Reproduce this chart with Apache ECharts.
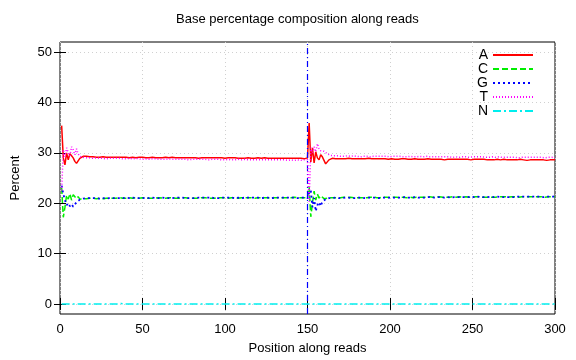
<!DOCTYPE html>
<html>
<head>
<meta charset="utf-8">
<script src="https://cdn.jsdelivr.net/npm/echarts@6/dist/echarts.min.js"></script>
<style>html,body{margin:0;padding:0;background:#fff}#c{width:576px;height:360px}</style>
</head>
<body>
<div id="c"></div>
<script>
const titleText = 'Base percentage composition along reads';
const xName = 'Position along reads';
const yName = 'Percent';
const seriesNames = ['A', 'C', 'G', 'T', 'N'];
const readBoundary = 150;
const xTicks = [0, 50, 100, 150, 200, 250, 300];
const yTicks = [0, 10, 20, 30, 40, 50];
const positions = Array.from({length: 300}, (_, i) => i + 1);

const baseA = [
35.4, 29.0, 27.6, 30.0, 28.6, 29.8, 29.4, 29.0, 28.3, 27.9,
28.4, 28.9, 29.1, 29.3, 29.2, 29.3, 29.2, 29.2, 29.1, 29.2,
29.2, 29.1, 29.2, 29.1, 29.1, 29.2, 29.1, 29.1, 29.2, 29.1,
29.1, 29.1, 29.2, 29.1, 29.1, 29.1, 29.0, 29.1, 29.1, 29.1,
29.1, 29.0, 29.1, 29.1, 29.1, 29.0, 29.1, 29.1, 29.0, 29.1,
29.1, 29.0, 29.1, 29.0, 29.1, 29.1, 29.0, 29.0, 29.1, 29.0,
29.1, 29.0, 29.0, 29.1, 29.0, 29.0, 29.0, 29.1, 29.0, 29.0,
29.0, 29.0, 29.1, 29.0, 29.0, 29.0, 29.0, 29.0, 29.0, 29.0,
29.0, 29.0, 29.0, 28.9, 29.0, 29.0, 29.0, 29.0, 28.9, 29.0,
29.0, 29.0, 28.9, 29.0, 29.0, 29.0, 28.9, 29.0, 29.0, 28.9,
29.0, 29.0, 28.9, 29.0, 28.9, 29.0, 29.0, 28.9, 29.0, 28.9,
29.0, 28.9, 28.9, 29.0, 28.9, 28.9, 29.0, 28.9, 28.9, 29.0,
28.9, 28.9, 28.9, 29.0, 28.9, 28.9, 28.9, 28.9, 29.0, 28.9,
28.9, 28.9, 28.9, 28.9, 29.0, 28.9, 28.9, 28.9, 28.9, 28.9,
28.9, 28.9, 29.0, 28.9, 28.9, 28.9, 28.9, 28.8, 28.9, 29.0,
35.9, 28.2, 31.0, 28.0, 30.2, 29.0, 28.6, 29.6, 29.2, 28.5,
27.8, 28.2, 28.6, 28.8, 28.9, 28.9, 28.8, 28.9, 28.8, 28.9,
28.8, 28.9, 28.8, 28.8, 28.9, 28.8, 28.8, 28.9, 28.8, 28.8,
28.8, 28.9, 28.8, 28.8, 28.8, 28.8, 28.9, 28.8, 28.8, 28.8,
28.8, 28.7, 28.8, 28.8, 28.8, 28.7, 28.8, 28.8, 28.7, 28.8,
28.8, 28.8, 28.7, 28.8, 28.7, 28.8, 28.8, 28.7, 28.8, 28.7,
28.7, 28.8, 28.7, 28.7, 28.8, 28.7, 28.7, 28.8, 28.7, 28.7,
28.7, 28.7, 28.8, 28.7, 28.7, 28.7, 28.7, 28.8, 28.7, 28.7,
28.7, 28.7, 28.6, 28.7, 28.7, 28.7, 28.7, 28.6, 28.7, 28.7,
28.7, 28.6, 28.7, 28.7, 28.7, 28.6, 28.7, 28.7, 28.6, 28.7,
28.7, 28.6, 28.7, 28.6, 28.7, 28.6, 28.7, 28.6, 28.6, 28.7,
28.6, 28.7, 28.6, 28.6, 28.7, 28.6, 28.6, 28.6, 28.7, 28.6,
28.6, 28.6, 28.6, 28.7, 28.6, 28.6, 28.6, 28.6, 28.7, 28.6,
28.6, 28.6, 28.5, 28.6, 28.6, 28.6, 28.6, 28.5, 28.6, 28.6,
28.6, 28.5, 28.6, 28.6, 28.5, 28.6, 28.6, 28.5, 28.6, 28.6
];

const baseC = [
23.0, 17.2, 19.2, 21.6, 20.8, 21.9, 20.6, 21.7, 22.0, 20.9,
21.3, 20.8, 21.0, 20.9, 21.0, 20.9, 21.0, 21.0, 20.9, 21.0,
21.0, 20.9, 21.0, 21.0, 21.0, 20.9, 21.0, 21.0, 21.1, 21.0,
21.0, 21.0, 20.9, 21.0, 21.0, 21.1, 21.0, 21.0, 21.0, 21.0,
21.0, 21.1, 21.0, 21.0, 21.0, 21.1, 21.0, 21.0, 21.0, 21.1,
21.0, 21.0, 21.1, 21.0, 21.0, 21.0, 21.1, 21.0, 21.0, 21.1,
21.0, 21.0, 21.1, 21.0, 21.0, 21.1, 21.0, 21.1, 21.0, 21.0,
21.1, 21.0, 21.0, 21.1, 21.0, 21.1, 21.0, 21.0, 21.1, 21.0,
21.1, 21.0, 21.1, 21.0, 21.0, 21.1, 21.0, 21.1, 21.1, 21.0,
21.1, 21.0, 21.1, 21.0, 21.1, 21.1, 21.0, 21.1, 21.0, 21.1,
21.1, 21.0, 21.1, 21.1, 21.0, 21.1, 21.1, 21.0, 21.1, 21.1,
21.0, 21.1, 21.1, 21.1, 21.0, 21.1, 21.1, 21.0, 21.1, 21.1,
21.1, 21.1, 21.0, 21.1, 21.1, 21.1, 21.1, 21.0, 21.1, 21.1,
21.1, 21.1, 21.2, 21.1, 21.1, 21.1, 21.0, 21.1, 21.1, 21.1,
21.1, 21.2, 21.1, 21.1, 21.1, 21.1, 21.2, 21.1, 21.1, 21.1,
23.2, 17.3, 20.0, 22.4, 20.6, 21.8, 21.0, 21.5, 21.2, 20.9,
21.1, 21.0, 21.2, 21.1, 21.0, 21.1, 21.2, 21.1, 21.0, 21.1,
21.1, 21.2, 21.1, 21.1, 21.1, 21.2, 21.1, 21.1, 21.2, 21.1,
21.1, 21.1, 21.2, 21.1, 21.2, 21.1, 21.1, 21.2, 21.1, 21.2,
21.2, 21.1, 21.2, 21.1, 21.2, 21.2, 21.1, 21.2, 21.2, 21.1,
21.2, 21.2, 21.1, 21.2, 21.2, 21.1, 21.2, 21.2, 21.2, 21.1,
21.2, 21.2, 21.2, 21.1, 21.2, 21.2, 21.2, 21.2, 21.1, 21.2,
21.2, 21.2, 21.2, 21.3, 21.2, 21.2, 21.2, 21.2, 21.2, 21.3,
21.2, 21.2, 21.2, 21.2, 21.3, 21.2, 21.2, 21.3, 21.2, 21.2,
21.2, 21.3, 21.2, 21.2, 21.2, 21.3, 21.2, 21.2, 21.3, 21.2,
21.2, 21.3, 21.2, 21.3, 21.2, 21.2, 21.3, 21.2, 21.3, 21.2,
21.3, 21.2, 21.3, 21.2, 21.3, 21.3, 21.2, 21.3, 21.2, 21.3,
21.3, 21.2, 21.3, 21.3, 21.2, 21.3, 21.3, 21.2, 21.3, 21.3,
21.3, 21.3, 21.2, 21.3, 21.3, 21.3, 21.2, 21.3, 21.3, 21.3,
21.3, 21.3, 21.3, 21.2, 21.3, 21.3, 21.3, 21.3, 21.2, 21.3
];

const baseG = [
23.5, 21.8, 20.6, 19.6, 20.0, 19.4, 19.8, 19.3, 19.6, 20.2,
20.5, 20.7, 20.8, 20.9, 20.9, 21.0, 20.9, 21.0, 21.0, 21.0,
20.9, 21.0, 21.0, 20.9, 21.0, 21.0, 21.0, 20.9, 21.0, 21.0,
21.0, 21.0, 21.0, 21.0, 20.9, 21.0, 21.0, 21.0, 21.0, 21.1,
21.0, 21.0, 21.0, 21.1, 21.0, 21.0, 21.0, 21.0, 21.1, 21.0,
21.0, 21.1, 21.0, 21.0, 21.0, 21.1, 21.0, 21.0, 21.1, 21.0,
21.0, 21.1, 21.0, 21.0, 21.1, 21.0, 21.1, 21.0, 21.0, 21.1,
21.0, 21.1, 21.0, 21.1, 21.0, 21.0, 21.1, 21.0, 21.1, 21.0,
21.1, 21.0, 21.1, 21.1, 21.0, 21.1, 21.0, 21.1, 21.0, 21.1,
21.0, 21.1, 21.1, 21.0, 21.1, 21.0, 21.1, 21.1, 21.0, 21.1,
21.1, 21.1, 21.0, 21.1, 21.1, 21.0, 21.1, 21.1, 21.1, 21.0,
21.1, 21.1, 21.0, 21.1, 21.1, 21.1, 21.0, 21.1, 21.1, 21.1,
21.1, 21.0, 21.1, 21.1, 21.1, 21.1, 21.1, 21.0, 21.1, 21.1,
21.1, 21.1, 21.1, 21.1, 21.0, 21.1, 21.1, 21.1, 21.1, 21.1,
21.1, 21.1, 21.1, 21.0, 21.1, 21.1, 21.1, 21.1, 21.1, 21.0,
22.0, 22.6, 19.2, 21.0, 18.4, 19.6, 20.2, 19.4, 20.3, 20.6,
20.8, 20.9, 21.0, 20.9, 21.0, 21.0, 21.1, 21.0, 21.0, 21.1,
21.0, 21.0, 21.1, 21.0, 21.1, 21.0, 21.0, 21.1, 21.0, 21.1,
21.1, 21.0, 21.1, 21.1, 21.0, 21.1, 21.1, 21.0, 21.1, 21.1,
21.1, 21.1, 21.0, 21.1, 21.1, 21.1, 21.1, 21.0, 21.1, 21.1,
21.1, 21.1, 21.1, 21.2, 21.1, 21.1, 21.1, 21.1, 21.2, 21.1,
21.1, 21.2, 21.1, 21.1, 21.2, 21.1, 21.1, 21.2, 21.1, 21.2,
21.1, 21.2, 21.2, 21.1, 21.2, 21.2, 21.1, 21.2, 21.2, 21.1,
21.2, 21.2, 21.1, 21.2, 21.2, 21.2, 21.1, 21.2, 21.2, 21.2,
21.2, 21.2, 21.2, 21.1, 21.2, 21.2, 21.2, 21.2, 21.3, 21.2,
21.2, 21.2, 21.3, 21.2, 21.2, 21.2, 21.2, 21.3, 21.2, 21.2,
21.3, 21.2, 21.2, 21.2, 21.3, 21.2, 21.2, 21.3, 21.2, 21.3,
21.2, 21.3, 21.2, 21.3, 21.2, 21.3, 21.3, 21.2, 21.3, 21.3,
21.3, 21.2, 21.3, 21.3, 21.3, 21.2, 21.3, 21.3, 21.3, 21.3,
21.3, 21.3, 21.2, 21.3, 21.3, 21.3, 21.3, 21.3, 21.3, 21.4
];

const baseT = [
22.5, 30.6, 29.2, 31.0, 30.0, 29.4, 31.2, 30.6, 29.6, 30.8,
29.8, 29.3, 29.0, 29.1, 28.9, 29.0, 28.9, 29.0, 28.9, 28.9,
28.9, 29.0, 28.9, 28.9, 28.8, 28.9, 28.9, 28.8, 28.9, 28.9,
28.8, 28.9, 28.8, 28.9, 28.8, 28.9, 28.8, 28.8, 28.9, 28.8,
28.8, 28.9, 28.8, 28.8, 28.8, 28.9, 28.8, 28.8, 28.8, 28.7,
28.8, 28.8, 28.8, 28.7, 28.8, 28.8, 28.7, 28.8, 28.8, 28.7,
28.8, 28.7, 28.8, 28.7, 28.7, 28.8, 28.7, 28.7, 28.8, 28.7,
28.7, 28.7, 28.8, 28.7, 28.7, 28.7, 28.7, 28.6, 28.7, 28.7,
28.7, 28.7, 28.6, 28.7, 28.7, 28.7, 28.6, 28.7, 28.7, 28.6,
28.7, 28.7, 28.6, 28.7, 28.6, 28.7, 28.7, 28.6, 28.7, 28.6,
28.6, 28.7, 28.6, 28.6, 28.7, 28.6, 28.6, 28.7, 28.6, 28.6,
28.6, 28.7, 28.6, 28.6, 28.6, 28.6, 28.7, 28.6, 28.6, 28.6,
28.6, 28.6, 28.7, 28.6, 28.6, 28.6, 28.5, 28.6, 28.6, 28.6,
28.6, 28.6, 28.5, 28.6, 28.6, 28.6, 28.6, 28.5, 28.6, 28.6,
28.6, 28.5, 28.6, 28.6, 28.6, 28.5, 28.6, 28.6, 28.5, 28.6,
20.3, 31.0, 30.0, 31.2, 30.2, 31.8, 30.8, 30.4, 30.6, 30.3,
30.0, 29.8, 29.6, 29.5, 29.4, 29.4, 29.3, 29.4, 29.3, 29.3,
29.4, 29.3, 29.3, 29.4, 29.3, 29.3, 29.3, 29.4, 29.3, 29.3,
29.3, 29.2, 29.3, 29.3, 29.4, 29.3, 29.3, 29.2, 29.3, 29.3,
29.3, 29.3, 29.2, 29.3, 29.3, 29.3, 29.2, 29.3, 29.3, 29.2,
29.3, 29.3, 29.2, 29.3, 29.2, 29.3, 29.3, 29.2, 29.3, 29.2,
29.2, 29.3, 29.2, 29.2, 29.3, 29.2, 29.2, 29.3, 29.2, 29.2,
29.2, 29.3, 29.2, 29.2, 29.2, 29.2, 29.3, 29.2, 29.2, 29.2,
29.2, 29.2, 29.1, 29.2, 29.2, 29.2, 29.2, 29.1, 29.2, 29.2,
29.2, 29.1, 29.2, 29.2, 29.1, 29.2, 29.2, 29.1, 29.2, 29.2,
29.1, 29.2, 29.1, 29.2, 29.1, 29.2, 29.1, 29.1, 29.2, 29.1,
29.1, 29.2, 29.1, 29.1, 29.1, 29.2, 29.1, 29.1, 29.1, 29.1,
29.1, 29.1, 29.2, 29.1, 29.1, 29.1, 29.1, 29.0, 29.1, 29.1,
29.1, 29.1, 29.0, 29.1, 29.1, 29.1, 29.0, 29.1, 29.1, 29.1,
29.0, 29.1, 29.1, 29.0, 29.1, 29.1, 29.0, 29.1, 29.1, 29.0
];

const baseN = [
0.0, 0.0, 0.0, 0.0, 0.0, 0.0, 0.0, 0.0, 0.0, 0.0,
0.0, 0.0, 0.0, 0.0, 0.0, 0.0, 0.0, 0.0, 0.0, 0.0,
0.0, 0.0, 0.0, 0.0, 0.0, 0.0, 0.0, 0.0, 0.0, 0.0,
0.0, 0.0, 0.0, 0.0, 0.0, 0.0, 0.1, 0.0, 0.0, 0.0,
0.0, 0.0, 0.0, 0.0, 0.0, 0.0, 0.0, 0.0, 0.0, 0.0,
0.0, 0.0, 0.0, 0.0, 0.0, 0.0, 0.0, 0.0, 0.0, 0.0,
0.0, 0.0, 0.0, 0.0, 0.0, 0.0, 0.0, 0.0, 0.0, 0.0,
0.0, 0.0, 0.0, 0.0, 0.0, 0.0, 0.0, 0.0, 0.0, 0.1,
0.0, 0.0, 0.0, 0.0, 0.0, 0.0, 0.0, 0.0, 0.0, 0.0,
0.0, 0.0, 0.0, 0.0, 0.0, 0.0, 0.0, 0.0, 0.0, 0.0,
0.0, 0.1, 0.0, 0.0, 0.0, 0.0, 0.0, 0.0, 0.0, 0.0,
0.0, 0.1, 0.0, 0.0, 0.0, 0.0, 0.0, 0.0, 0.0, 0.0,
0.0, 0.0, 0.0, 0.0, 0.0, 0.0, 0.0, 0.0, 0.0, 0.0,
0.0, 0.0, 0.0, 0.0, 0.0, 0.0, 0.0, 0.0, 0.0, 0.0,
0.0, 0.0, 0.0, 0.0, 0.0, 0.0, 0.0, 0.0, 0.0, 0.0,
0.0, 0.0, 0.0, 0.0, 0.0, 0.0, 0.0, 0.0, 0.0, 0.0,
0.0, 0.0, 0.0, 0.0, 0.0, 0.0, 0.0, 0.0, 0.0, 0.0,
0.0, 0.0, 0.0, 0.0, 0.0, 0.0, 0.0, 0.0, 0.0, 0.0,
0.0, 0.0, 0.0, 0.0, 0.0, 0.0, 0.0, 0.0, 0.0, 0.0,
0.0, 0.0, 0.0, 0.0, 0.0, 0.0, 0.0, 0.0, 0.0, 0.0,
0.0, 0.0, 0.0, 0.0, 0.0, 0.0, 0.0, 0.0, 0.0, 0.0,
0.0, 0.0, 0.0, 0.0, 0.0, 0.0, 0.0, 0.0, 0.0, 0.0,
0.0, 0.0, 0.0, 0.0, 0.0, 0.0, 0.0, 0.0, 0.0, 0.0,
0.0, 0.0, 0.0, 0.0, 0.0, 0.0, 0.0, 0.0, 0.0, 0.0,
0.0, 0.0, 0.0, 0.0, 0.0, 0.0, 0.0, 0.0, 0.0, 0.0,
0.0, 0.0, 0.0, 0.0, 0.0, 0.0, 0.0, 0.0, 0.0, 0.0,
0.0, 0.0, 0.0, 0.0, 0.0, 0.0, 0.0, 0.0, 0.0, 0.0,
0.0, 0.0, 0.0, 0.0, 0.0, 0.0, 0.0, 0.0, 0.0, 0.0,
0.0, 0.0, 0.0, 0.0, 0.0, 0.0, 0.0, 0.0, 0.0, 0.0,
0.0, 0.0, 0.0, 0.0, 0.0, 0.0, 0.0, 0.0, 0.0, 0.0
];

const FONT = '"Liberation Sans", Arial, sans-serif';
const valuesByName = {A: baseA, C: baseC, G: baseG, T: baseT, N: baseN};
const styles = {
  A: {color: '#ff0000', type: 'solid', width: 1.5},
  C: {color: '#00ee00', type: [6, 3], width: 1.5},
  G: {color: '#0000ff', type: [2, 3], width: 1.8},
  T: {color: '#ff00ff', type: [1, 2], width: 1.5},
  N: {color: '#00eeee', type: [8, 3, 2, 3], width: 1.5}
};

const gridLine = {show: true, lineStyle: {color: '#d0d0d0', type: [1, 3], width: 1}};
const tickStyle = {show: true, inside: true, length: 6, lineStyle: {color: '#000', width: 1}};

const series = seriesNames.map((name, k) => {
  const s = {
    name: name,
    type: 'line',
    symbol: 'none',
    showSymbol: false,
    data: positions.map((p, i) => [p, valuesByName[name][i]]),
    lineStyle: styles[name],
    itemStyle: {color: styles[name].color},
    z: 3 + k
  };
  if (name === 'A') {
    s.markLine = {
      symbol: 'none', silent: true, label: {show: false},
      lineStyle: {color: '#0000ff', type: [6, 3, 1, 3], width: 1.2},
      data: [{xAxis: readBoundary}]
    };
  }
  return s;
});

const chart = echarts.init(document.getElementById('c'), null, {renderer: 'canvas'});
chart.setOption({
  animation: false,
  backgroundColor: '#fff',
  textStyle: {fontFamily: FONT},
  title: {
    text: titleText, left: 176, top: 13, padding: 0,
    textStyle: {fontSize: 13, fontWeight: 'normal', color: '#000', fontFamily: FONT}
  },
  legend: {
    data: seriesNames, orient: 'vertical', right: 42, top: 48, align: 'right',
    itemWidth: 40, itemHeight: 14, itemGap: 0, padding: 0,
    itemStyle: {color: 'transparent', borderWidth: 0, opacity: 0},
    textStyle: {fontSize: 14, lineHeight: 14, color: '#000', fontFamily: FONT},
    selectedMode: false
  },
  grid: {left: 60, right: 21, top: 42, bottom: 46, show: true, borderColor: '#000', borderWidth: 1, backgroundColor: 'transparent'},
  xAxis: [
    {
      type: 'value', min: xTicks[0], max: xTicks[xTicks.length - 1], interval: 50, position: 'bottom',
      axisLine: {show: false}, axisTick: tickStyle,
      axisLabel: {color: '#000', fontSize: 13, margin: 9, fontFamily: FONT},
      splitLine: gridLine,
      name: xName, nameLocation: 'middle', nameGap: 28,
      nameTextStyle: {fontSize: 13, color: '#000', fontFamily: FONT}
    },
    {
      type: 'value', min: xTicks[0], max: xTicks[xTicks.length - 1], interval: 50, position: 'top',
      axisLine: {show: false}, axisTick: tickStyle, axisLabel: {show: false}, splitLine: {show: false}
    }
  ],
  yAxis: [
    {
      type: 'value', min: -2, max: 52, position: 'left',
      axisLine: {show: false},
      axisTick: Object.assign({customValues: yTicks}, tickStyle),
      axisLabel: {customValues: yTicks, color: '#000', fontSize: 13, margin: 8, fontFamily: FONT},
      splitLine: gridLine,
      name: yName, nameLocation: 'middle', nameGap: 38,
      nameTextStyle: {fontSize: 13, color: '#000', fontFamily: FONT}
    },
    {
      type: 'value', min: -2, max: 52, position: 'right',
      axisLine: {show: false},
      axisTick: Object.assign({customValues: yTicks}, tickStyle),
      axisLabel: {show: false, customValues: yTicks}, splitLine: {show: false}
    }
  ],
  series: series
});
</script>
</body>
</html>
